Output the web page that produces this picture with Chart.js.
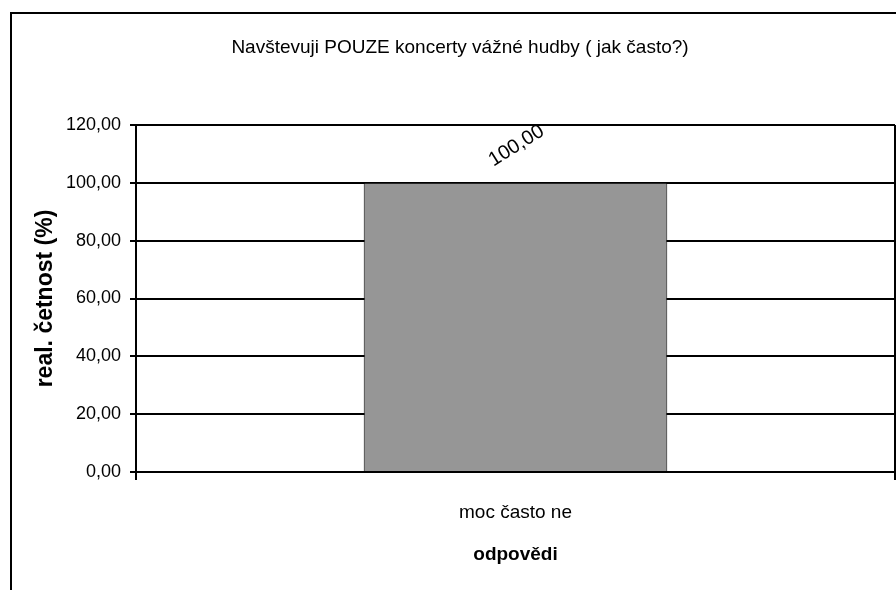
<!DOCTYPE html>
<html>
<head>
<meta charset="utf-8">
<script src="https://cdn.jsdelivr.net/npm/chart.js@4.4.0/dist/chart.umd.min.js"></script>
<style>
  html, body { margin: 0; padding: 0; background: #fff; }
  #wrap { width: 896px; height: 590px; }
</style>
</head>
<body>
<div id="wrap"><canvas id="chart" width="896" height="590"></canvas></div>
<script>
// Data
var categories = ['moc často ne'];
var values = [100];
var yMin = 0;
var yMax = 120;
var yStep = 20;

var chartTitle = 'Navštevuji POUZE koncerty vážné hudby ( jak často?)';
var yTitle = 'real. četnost (%)';
var xTitle = 'odpovědi';

var FONT = "'Liberation Sans', Arial, sans-serif";

function fmt(v) {
    return Number(v).toFixed(2).replace('.', ',');
}

// White background, outer frame and the title
var framePlugin = {
    id: 'frame',
    beforeDraw: function (chart) {
        var ctx = chart.ctx;
        ctx.save();
        ctx.fillStyle = '#fff';
        ctx.fillRect(0, 0, chart.width, chart.height);
        ctx.strokeStyle = '#000';
        ctx.lineWidth = 2;
        ctx.strokeRect(11, 13, chart.width + 20, chart.height + 20);
        ctx.fillStyle = '#000';
        ctx.font = '19px ' + FONT;
        ctx.textAlign = 'center';
        ctx.textBaseline = 'middle';
        ctx.fillText(chartTitle, 460, 48);
        ctx.restore();
    }
};

// Rotated value label above each bar
var labelPlugin = {
    id: 'barLabels',
    afterDatasetsDraw: function (chart) {
        var ctx = chart.ctx;
        var meta = chart.getDatasetMeta(0);
        meta.data.forEach(function (bar, i) {
            ctx.save();
            ctx.translate(bar.x + 1, bar.y - 37);
            ctx.rotate(-32 * Math.PI / 180);
            ctx.fillStyle = '#000';
            ctx.font = '20px ' + FONT;
            ctx.textAlign = 'center';
            ctx.textBaseline = 'middle';
            ctx.fillText(fmt(values[i]), 0, 0);
            ctx.restore();
        });
    }
};

var chart = new Chart(document.getElementById('chart'), {
    type: 'bar',
    data: {
        labels: categories,
        datasets: [{
            data: values,
            backgroundColor: '#969696',
            borderColor: '#000',
            borderWidth: 1,
            barPercentage: 0.4,
            categoryPercentage: 1
        }]
    },
    options: {
        responsive: false,
        devicePixelRatio: 1,
        animation: false,
        layout: { padding: { top: 125, right: 1, bottom: 0, left: 0 } },
        plugins: {
            legend: { display: false },
            tooltip: { enabled: false }
        },
        scales: {
            x: {
                afterFit: function (scale) { scale.height = 118; },
                grid: {
                    display: true,
                    offset: true,
                    color: '#000',
                    lineWidth: 2,
                    drawTicks: true,
                    tickLength: 8
                },
                border: { display: true, color: '#000', width: 2 },
                ticks: {
                    color: '#000',
                    padding: 21,
                    font: { family: FONT, size: 19 }
                },
                title: {
                    display: true,
                    text: xTitle,
                    color: '#000',
                    font: { family: FONT, size: 19, weight: 'bold' },
                    padding: { top: 0, bottom: 24 }
                }
            },
            y: {
                min: yMin,
                max: yMax,
                afterFit: function (scale) { scale.width = 136; },
                grid: {
                    color: '#000',
                    lineWidth: 2,
                    drawTicks: true,
                    tickLength: 6
                },
                border: { display: true, color: '#000', width: 2 },
                ticks: {
                    stepSize: yStep,
                    color: '#000',
                    padding: 9,
                    font: { family: FONT, size: 18 },
                    callback: function (v) { return fmt(v); }
                },
                title: {
                    display: true,
                    text: yTitle,
                    color: '#000',
                    font: { family: FONT, size: 23, weight: 'bold' },
                    padding: { top: 32, bottom: 0 }
                }
            }
        }
    },
    plugins: [framePlugin, labelPlugin]
});
</script>
</body>
</html>
